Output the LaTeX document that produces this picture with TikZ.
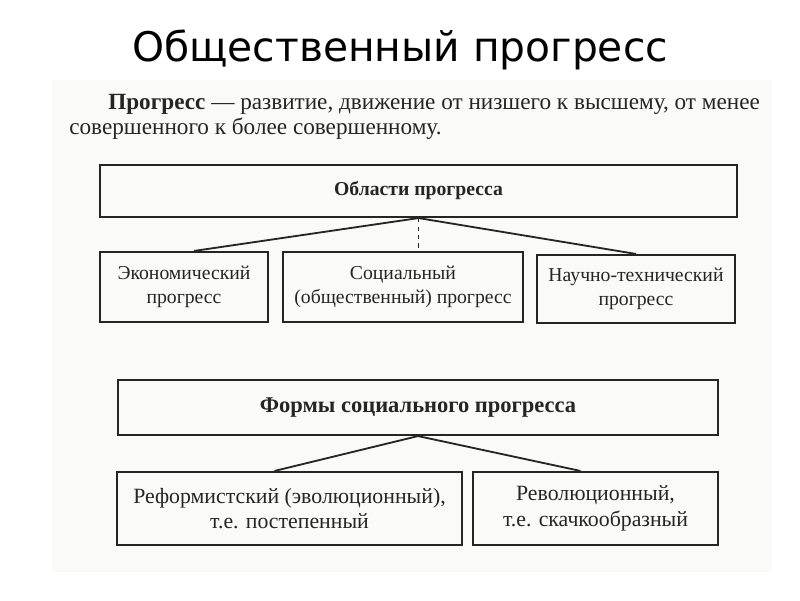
\documentclass[tikz,border=0pt]{standalone}
\usepackage{fontspec}
\setmainfont{Liberation Serif}
\newfontfamily\headfont{DejaVu Sans}
\usepackage{xcolor}
\usetikzlibrary{calc}
\definecolor{ink}{HTML}{252525}
\definecolor{paper}{HTML}{FAFAF9}

\begin{document}
\begin{tikzpicture}[x=0.025cm, y=-0.025cm,
  box/.style={draw=ink, line width=1.5pt, text=ink, align=center, inner sep=2pt},
  link/.style={draw=ink, line width=1.3pt},
  txt/.style={text=ink, inner sep=0pt, anchor=base west}]
\useasboundingbox (0,0) rectangle (800,600);
\fill[paper] (52,80) rectangle (772,572);
\node (title) at (400,50) {\headfont\fontsize{29pt}{34pt}\selectfont Общественный прогресс};
\node[txt] (def1) at (108,109) {\fontsize{16.5pt}{18pt}\selectfont\textbf{Прогресс} --- развитие, движение от низшего к высшему, от менее};
\node[txt] (def2) at (69,134) {\fontsize{16.5pt}{18pt}\selectfont совершенного к более совершенному.};
\node[box, minimum width=637*0.025cm, minimum height=52*0.025cm, font=\fontsize{14pt}{17pt}\selectfont\bfseries] (areas) at (418.5,191) {Области прогресса};
\node[box, minimum width=168*0.025cm, minimum height=70*0.025cm, font=\fontsize{14pt}{17pt}\selectfont] (econ) at (184,287) {Экономический\\прогресс};
\node[box, minimum width=240*0.025cm, minimum height=70*0.025cm, font=\fontsize{14pt}{17pt}\selectfont] (soc) at (403,287) {Социальный\\(общественный) прогресс};
\node[box, minimum width=198*0.025cm, minimum height=68*0.025cm, font=\fontsize{14pt}{17pt}\selectfont] (sci) at (636,289) {Научно-технический\\прогресс};
\node[box, minimum width=600*0.025cm, minimum height=55*0.025cm, font=\fontsize{16pt}{19pt}\selectfont\bfseries] (forms) at (418,407.5) {Формы социального прогресса};
\node[box, minimum width=345*0.025cm, minimum height=73*0.025cm, font=\fontsize{15.5pt}{18pt}\selectfont] (reform) at (289.5,508.5) {Реформистский (эволюционный),\\т.е. постепенный};
\node[box, minimum width=245*0.025cm, minimum height=73*0.025cm, font=\fontsize{15.5pt}{18pt}\selectfont] (revol) at (595.5,508.5) {Революционный,\\т.е. скачкообразный};
\draw[link] ($(econ.north)+(10,0)$) -- (areas.south) -- (sci.north);
\draw[ink, line width=0.6pt, dashed] (areas.south) -- (areas.south |- soc.north);
\draw[link] ($(reform.north)+(-15,0)$) -- (forms.south) -- ($(revol.north)+(-15,0)$);
\end{tikzpicture}
\end{document}
